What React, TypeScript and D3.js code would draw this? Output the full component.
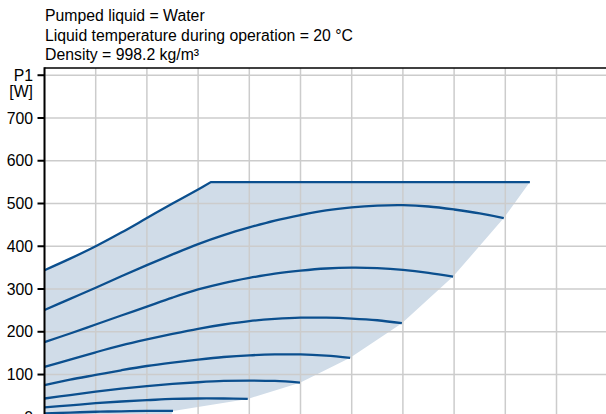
import React from "react";
import * as d3 from "d3";

// Header lines
const headerLines = [
  "Pumped liquid = Water",
  "Liquid temperature during operation = 20 °C",
  "Density = 998.2 kg/m³",
];

// Y ticks (P1 [W])
const yTicks = [0, 100, 200, 300, 400, 500, 600, 700];
const xGrid = [0, 1, 2, 3, 4, 5, 6, 7, 8, 9, 10, 11];

// Max-speed boundary (curved part) then flat power limit
const topQ = [0, 0.5, 1, 1.5, 2, 2.5, 3, 3.25];
const topP = [344, 371, 400, 432, 466, 500, 533, 550];
const flatQ = [3.25, 9.48];
const flatP = [550, 550];

// Right boundary of operating range
const edgeQ = [9.48, 8.97, 7.98, 6.98, 5.97, 4.99, 3.97, 2.51, 2.45];
const edgeP = [550, 466, 329, 220, 139, 81, 43, 15, 0];

// Speed curves
const c1Q = [0, 0.5, 1, 1.5, 2, 2.5, 3, 3.5, 4, 4.5, 5, 5.5, 6, 6.5, 7, 7.5, 8, 8.5, 8.97];
const c1P = [251, 277, 303, 330, 356, 381, 405, 426, 444, 460, 473, 484, 491, 495, 496, 493, 486, 477, 466];
const c2Q = [0, 0.5, 1, 1.5, 2, 2.5, 3, 3.5, 4, 4.5, 5, 5.5, 6, 6.5, 7, 7.5, 7.98];
const c2P = [176, 196, 217, 238, 259, 280, 299, 314, 326, 336, 343, 348, 350, 349, 345, 338, 329];
const c3Q = [0, 0.5, 1, 1.5, 2, 2.5, 3, 3.5, 4, 4.5, 5, 5.5, 6, 6.5, 6.98];
const c3P = [118, 135, 152, 168, 182, 195, 207, 217, 225, 230, 233, 233, 231, 227, 220];
const c4Q = [0, 0.5, 1, 1.5, 2, 2.5, 3, 3.5, 4, 4.5, 5, 5.5, 5.97];
const c4P = [75, 88, 99, 110, 120, 128, 135, 141, 145, 147, 147, 144, 139];
const c5Q = [0, 0.5, 1, 1.5, 2, 2.5, 3, 3.5, 4, 4.5, 4.99];
const c5P = [44, 52, 60, 67, 73, 78, 82, 85, 86, 85, 81];
const c6Q = [0, 0.5, 1, 1.5, 2, 2.5, 3, 3.5, 3.97];
const c6P = [23, 28, 33, 37, 40, 43, 44, 44, 43];
const c7Q = [0, 0.5, 1, 1.5, 2, 2.51];
const c7P = [9, 11, 13, 14, 15, 15];

const curves: [number[], number[]][] = [
  [c1Q, c1P],
  [c2Q, c2P],
  [c3Q, c3P],
  [c4Q, c4P],
  [c5Q, c5P],
  [c6Q, c6P],
  [c7Q, c7P],
];

const W = 606;
const H = 414;
const X0 = 44.5;
const DX = 51.2;
const Y0 = 417.3;
const PXPER = 0.4276;

export default function App() {
  const x = d3.scaleLinear().domain([0, 11]).range([X0, X0 + 11 * DX]);
  const y = d3.scaleLinear().domain([0, 800]).range([Y0, Y0 - 800 * PXPER]);
  const zip = (q: number[], p: number[]) => q.map((v, i) => [v, p[i]] as [number, number]);

  const smooth = d3
    .line<[number, number]>()
    .x((d) => x(d[0]))
    .y((d) => y(d[1]))
    .curve(d3.curveCatmullRom.alpha(0.5));
  const straight = d3
    .line<[number, number]>()
    .x((d) => x(d[0]))
    .y((d) => y(d[1]));

  const topPath = smooth(zip(topQ, topP)) || "";
  const flatPath = straight(zip(flatQ, flatP)) || "";
  const edgePath = (straight(zip(edgeQ, edgeP)) || "").replace(/^M/, "L");
  const areaPath =
    topPath + flatPath.replace(/^M/, "L") + edgePath + `L${x(0)},${y(0)}Z`;

  const plotTop = 68;
  const lineColor = "#0b4f8e";
  const font = "Arial, 'Liberation Sans', sans-serif";
  const fs = 15.8;

  return (
    <svg
      width={W}
      height={H}
      style={{ position: "fixed", left: 0, top: 0, background: "#fff" }}
      fontFamily={font}
    >
      <defs>
        <clipPath id="plot">
          <rect x={X0} y={plotTop} width={W - X0} height={H - plotTop + 10} />
        </clipPath>
      </defs>
      {headerLines.map((t, i) => (
        <text key={i} x={45} y={21 + i * 19.5} fontSize={fs} fill="#000">
          {t}
        </text>
      ))}
      <g clipPath="url(#plot)">
        <path d={areaPath} fill="#d0dce8" stroke="none" />
        {xGrid.map((g) => (
          <line key={"vx" + g} x1={x(g)} x2={x(g)} y1={plotTop} y2={H + 10} stroke="#cccccc" strokeWidth={1.5} />
        ))}
        {[...yTicks, 800].map((t) => (
          <line key={"hy" + t} x1={X0} x2={W} y1={y(t)} y2={y(t)} stroke="#cccccc" strokeWidth={1.5} />
        ))}
        <path d={topPath + flatPath.replace(/^M/, "L")} fill="none" stroke={lineColor} strokeWidth={2.3} />
        {curves.map(([q, p], i) => (
          <path key={i} d={smooth(zip(q, p)) || ""} fill="none" stroke={lineColor} strokeWidth={2.3} />
        ))}
      </g>
      {/* axes */}
      <line x1={X0} x2={W} y1={plotTop} y2={plotTop} stroke="#000" strokeWidth={1.5} />
      <line x1={X0} x2={X0} y1={plotTop - 0.75} y2={H} stroke="#000" strokeWidth={2} />
      {[...yTicks, 800].map((t) => (
        <line key={"t" + t} x1={X0 - 7} x2={X0} y1={y(t)} y2={y(t)} stroke="#000" strokeWidth={2} />
      ))}
      {yTicks.map((t) => (
        <text key={"l" + t} x={33} y={y(t)} dy="0.35em" textAnchor="end" fontSize={fs} fill="#000">
          {t}
        </text>
      ))}
      <text x={33} y={81} textAnchor="end" fontSize={fs} fill="#000">
        P1
      </text>
      <text x={33} y={97} textAnchor="end" fontSize={fs} fill="#000">
        [W]
      </text>
    </svg>
  );
}
